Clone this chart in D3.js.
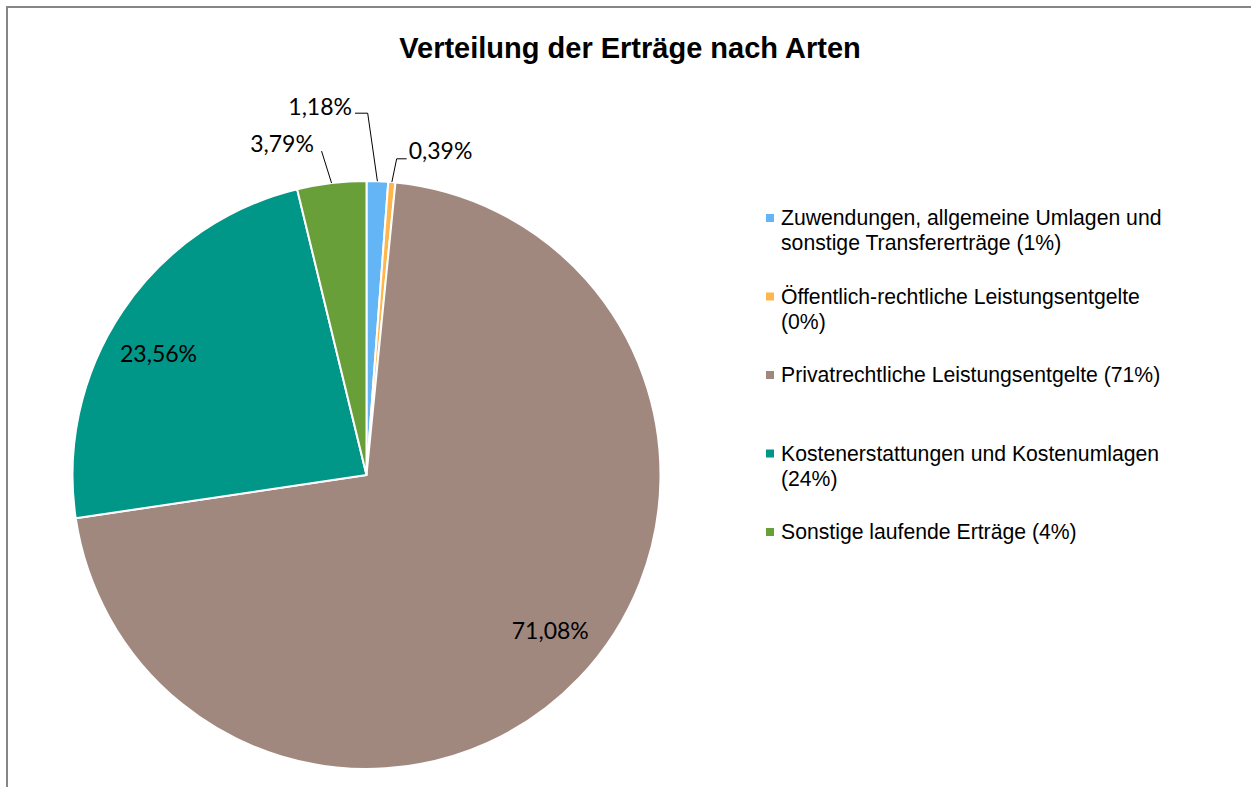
<!doctype html>
<html>
<head>
<meta charset="utf-8">
<title>Verteilung der Erträge nach Arten</title>
<script src="https://cdn.jsdelivr.net/npm/d3@7"></script>
<style>
  html, body { margin: 0; padding: 0; background: #fff; }
  svg { display: block; }
</style>
</head>
<body>
<svg width="1251" height="787"></svg>
<script>
// data
var categories = [
  "Zuwendungen, allgemeine Umlagen und sonstige Transfererträge",
  "Öffentlich-rechtliche Leistungsentgelte",
  "Privatrechtliche Leistungsentgelte",
  "Kostenerstattungen und Kostenumlagen",
  "Sonstige laufende Erträge"
];
var shares = [1.18, 0.39, 71.08, 23.56, 3.79];
var colors = ["#64B5F6", "#FFB74D", "#A1887F", "#009688", "#689F38"];
var title = "Verteilung der Erträge nach Arten";

// label placement (outside labels follow a leader line: elbow, end, text offset)
var labelLayout = [
  { outside: true, elbow: [-9.7, -68], end: [-12.7, 0], text: [-3, 2], anchor: "end" },
  { outside: true, elbow: [4.8, -23.3], end: [10, 0], text: [2, 0.5], anchor: "start" },
  { outside: false, shift: [10, -10] },
  { outside: false, shift: [-9, 13] },
  { outside: true, elbow: [-10, -32], end: [0, 0], text: [-7.7, 1], anchor: "end" }
];

var svg = d3.select("svg"),
    cx = 366.5, cy = 475, radius = 294;

var fmtPct = function(v) { return v.toFixed(2).replace(".", ",") + "%"; };

// chart frame (right and bottom edge fall outside the picture)
svg.append("rect")
  .attr("x", 7).attr("y", 7)
  .attr("width", 1246).attr("height", 792)
  .attr("fill", "#fff")
  .attr("stroke", "#868686")
  .attr("stroke-width", 2);

svg.append("text")
  .attr("x", 630).attr("y", 57.5)
  .attr("text-anchor", "middle")
  .attr("font-family", "Liberation Sans, Arial, sans-serif")
  .attr("font-weight", "bold")
  .attr("font-size", 29)
  .attr("fill", "#000")
  .text(title);

var pie = d3.pie().sort(null).value(function(d) { return d; });
var arcs = pie(shares);

var arc = d3.arc().innerRadius(0).outerRadius(radius);
var edgeArc = d3.arc().innerRadius(radius).outerRadius(radius);
var labelArc = d3.arc().innerRadius(radius * 0.816).outerRadius(radius * 0.816);

var g = svg.append("g").attr("transform", "translate(" + cx + "," + cy + ")");

g.selectAll("path.slice")
  .data(arcs)
  .enter().append("path")
  .attr("class", "slice")
  .attr("d", arc)
  .attr("fill", function(d, i) { return colors[i]; })
  .attr("stroke", "#fff")
  .attr("stroke-width", 2)
  .attr("stroke-linejoin", "round");

var labelFont = "Lato, Carlito, Calibri, sans-serif";

arcs.forEach(function(d, i) {
  var L = labelLayout[i];
  if (L.outside) {
    var p0 = edgeArc.centroid(d);
    var p1 = [p0[0] + L.elbow[0], p0[1] + L.elbow[1]];
    var p2 = [p1[0] + L.end[0], p1[1] + L.end[1]];
    g.append("path")
      .attr("d", d3.line()([p0, p1, p2]))
      .attr("fill", "none")
      .attr("stroke", "#000")
      .attr("stroke-width", 1);
    g.append("text")
      .attr("x", p2[0] + L.text[0])
      .attr("y", p2[1] + L.text[1])
      .attr("text-anchor", L.anchor)
      .attr("font-family", labelFont)
      .attr("font-size", 23)
      .attr("fill", "#000")
      .text(fmtPct(d.data));
  } else {
    var c = labelArc.centroid(d);
    g.append("text")
      .attr("x", c[0] + L.shift[0])
      .attr("y", c[1] + L.shift[1])
      .attr("dy", "0.36em")
      .attr("text-anchor", "middle")
      .attr("font-family", labelFont)
      .attr("font-size", 23)
      .attr("fill", "#000")
      .text(fmtPct(d.data));
  }
});

// legend
var legX = 766, legY = 218, legStep = 78.5, legMaxW = 390;
var legend = svg.append("g").attr("transform", "translate(" + legX + "," + legY + ")");

var item = legend.selectAll("g.item")
  .data(categories)
  .enter().append("g")
  .attr("class", "item")
  .attr("transform", function(d, i) { return "translate(0," + (i * legStep) + ")"; });

item.append("rect")
  .attr("x", 0).attr("y", -4)
  .attr("width", 8).attr("height", 8)
  .attr("fill", function(d, i) { return colors[i]; });

item.each(function(d, i) {
  var label = d + " (" + Math.round(shares[i]) + "%)";
  var t = d3.select(this).append("text")
    .attr("font-family", "Liberation Sans, Arial, sans-serif")
    .attr("font-size", 21.2)
    .attr("fill", "#000");
  var words = label.split(" "), line = [], lineNo = 0;
  var ts = t.append("tspan").attr("x", 15).attr("y", 0).attr("dy", "0.35em");
  words.forEach(function(w) {
    line.push(w);
    ts.text(line.join(" "));
    if (ts.node().getComputedTextLength() > legMaxW && line.length > 1) {
      line.pop();
      ts.text(line.join(" "));
      line = [w];
      lineNo++;
      ts = t.append("tspan").attr("x", 15).attr("y", lineNo * 25).attr("dy", "0.35em").text(w);
    }
  });
});
</script>
</body>
</html>
